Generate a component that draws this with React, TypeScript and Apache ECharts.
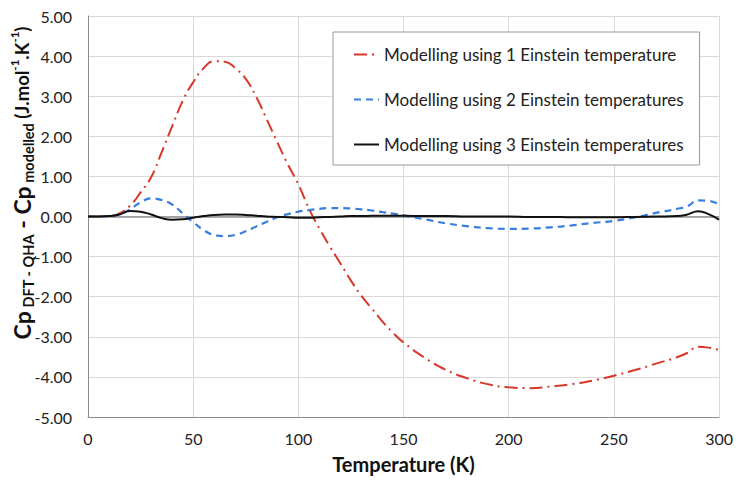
import React, { useEffect, useRef } from "react";
import * as echarts from "echarts";

const temps = [0, 5, 10, 15, 20, 25, 30, 35, 40, 45, 50, 55, 60, 65, 70, 75, 80, 85, 90, 95, 100, 105, 110, 115, 120, 125, 130, 135, 140, 145, 150, 160, 170, 180, 190, 200, 210, 220, 230, 240, 250, 260, 270, 280, 285, 290, 295, 300];

const einstein1 = [0, 0, 0.01, 0.08, 0.27, 0.6, 0.98, 1.6, 2.25, 2.88, 3.35, 3.7, 3.87, 3.86, 3.7, 3.43, 2.98, 2.42, 1.85, 1.3, 0.8, 0.2, -0.3, -0.75, -1.17, -1.6, -1.98, -2.3, -2.62, -2.9, -3.14, -3.52, -3.82, -4.03, -4.18, -4.26, -4.28, -4.24, -4.18, -4.09, -3.97, -3.83, -3.67, -3.51, -3.4, -3.25, -3.27, -3.33];

const einstein2 = [0, 0, 0.01, 0.05, 0.18, 0.35, 0.45, 0.41, 0.3, 0.08, -0.14, -0.34, -0.46, -0.49, -0.46, -0.37, -0.25, -0.13, -0.02, 0.06, 0.12, 0.16, 0.19, 0.21, 0.21, 0.2, 0.18, 0.15, 0.11, 0.07, 0.03, -0.07, -0.17, -0.24, -0.29, -0.31, -0.3, -0.27, -0.22, -0.16, -0.11, -0.02, 0.09, 0.19, 0.26, 0.4, 0.39, 0.3];

const einstein3 = [0, 0, 0.01, 0.05, 0.14, 0.12, 0.05, -0.04, -0.08, -0.07, -0.03, 0.01, 0.04, 0.05, 0.05, 0.04, 0.02, 0, -0.01, -0.02, -0.03, -0.03, -0.02, -0.01, 0, 0.01, 0.01, 0.02, 0.02, 0.02, 0.02, 0.01, 0.01, 0, 0, 0, -0.01, -0.01, -0.02, -0.02, -0.02, -0.01, 0, 0.01, 0.05, 0.13, 0.06, -0.08];

const seriesNames = [
  "Modelling using 1 Einstein temperature",
  "Modelling using 2 Einstein temperatures",
  "Modelling using 3 Einstein temperatures",
];

const FONT = "Lato, 'Open Sans', sans-serif";

export default function App() {
  const ref = useRef<HTMLDivElement>(null);
  useEffect(() => {
    if (!ref.current) return;
    const chart = echarts.init(ref.current, null, { renderer: "svg" });
    const pairs = (vals: number[]) => temps.map((t, i) => [t, vals[i]]);
    chart.setOption({
      animation: false,
      backgroundColor: "#ffffff",
      textStyle: { fontFamily: FONT },
      grid: { left: 80, right: 8, top: 8, bottom: 55, containLabel: false },
      xAxis: {
        type: "value",
        min: 0,
        max: 300,
        interval: 50,
        name: "Temperature (K)",
        nameLocation: "middle",
        nameGap: 37,
        nameTextStyle: { fontSize: 20, fontWeight: "bold", color: "#111", fontFamily: FONT },
        axisLine: { show: true, onZero: false, lineStyle: { color: "#8c8c8c", width: 1 } },
        axisTick: { show: false },
        axisLabel: { fontSize: 16, color: "#222", margin: 13, fontFamily: FONT },
        splitLine: { show: true, lineStyle: { color: "#d9d9d9", width: 1 } },
      },
      yAxis: {
        type: "value",
        min: -5,
        max: 5,
        interval: 1,
        axisLine: { show: true, lineStyle: { color: "#8c8c8c", width: 1 } },
        axisTick: { show: false },
        axisLabel: {
          fontSize: 16,
          color: "#222",
          margin: 16,
          fontFamily: FONT,
          formatter: (v: number) => v.toFixed(2),
        },
        splitLine: { show: true, lineStyle: { color: "#d9d9d9", width: 1 } },
      },
      legend: {
        orient: "vertical",
        left: 325,
        top: 24,
        padding: [14, 16, 12, 20],
        itemGap: 28,
        itemWidth: 25,
        itemHeight: 14,
        backgroundColor: "#ffffff",
        borderColor: "#9a9a9a",
        borderWidth: 1,
        itemStyle: { opacity: 0 },
        textStyle: { fontSize: 17, color: "#222", fontFamily: FONT },
        data: seriesNames,
      },
      graphic: [
        {
          type: "text",
          x: 14,
          y: 175,
          rotation: Math.PI / 2,
          style: {
            text: "{b|Cp}{s| DFT - QHA}{b| - Cp}{s| modelled}{m| (J.mol}{sup|-1}{m|.K}{sup|-1}{m|)}",
            align: "center",
            verticalAlign: "middle",
            fill: "#111",
            rich: {
              b: { fontSize: 23, fontWeight: "bold", lineHeight: 27, fontFamily: FONT, fill: "#111" },
              s: { fontSize: 14.5, fontWeight: "bold", lineHeight: 16, verticalAlign: "bottom", fontFamily: FONT, fill: "#111" },
              m: { fontSize: 18.5, fontWeight: "bold", lineHeight: 27, fontFamily: FONT, fill: "#111" },
              sup: { fontSize: 11.5, fontWeight: "bold", lineHeight: 14, verticalAlign: "top", fontFamily: FONT, fill: "#111" },
            },
          },
        },
      ],
      series: [
        {
          name: seriesNames[0],
          type: "line",
          smooth: true,
          showSymbol: false,
          symbol: "none",
          data: pairs(einstein1),
          itemStyle: { color: "#d8372b" },
          lineStyle: { color: "#d8372b", width: 2, type: [13, 5, 2, 5] },
          z: 3,
          markLine: {
            silent: true,
            symbol: "none",
            label: { show: false },
            lineStyle: { color: "#8c8c8c", width: 1.5, type: "solid" },
            data: [{ yAxis: 0 }],
            z: 1,
          },
        },
        {
          name: seriesNames[1],
          type: "line",
          smooth: true,
          showSymbol: false,
          symbol: "none",
          data: pairs(einstein2),
          itemStyle: { color: "#3a7ddf" },
          lineStyle: { color: "#3a7ddf", width: 2.2, type: [7, 5] },
          z: 4,
        },
        {
          name: seriesNames[2],
          type: "line",
          smooth: true,
          showSymbol: false,
          symbol: "none",
          data: pairs(einstein3),
          itemStyle: { color: "#111111" },
          lineStyle: { color: "#111111", width: 2 },
          z: 5,
        },
      ],
    });
    return () => chart.dispose();
  }, []);
  return <div ref={ref} style={{ width: 728, height: 471 }} />;
}
